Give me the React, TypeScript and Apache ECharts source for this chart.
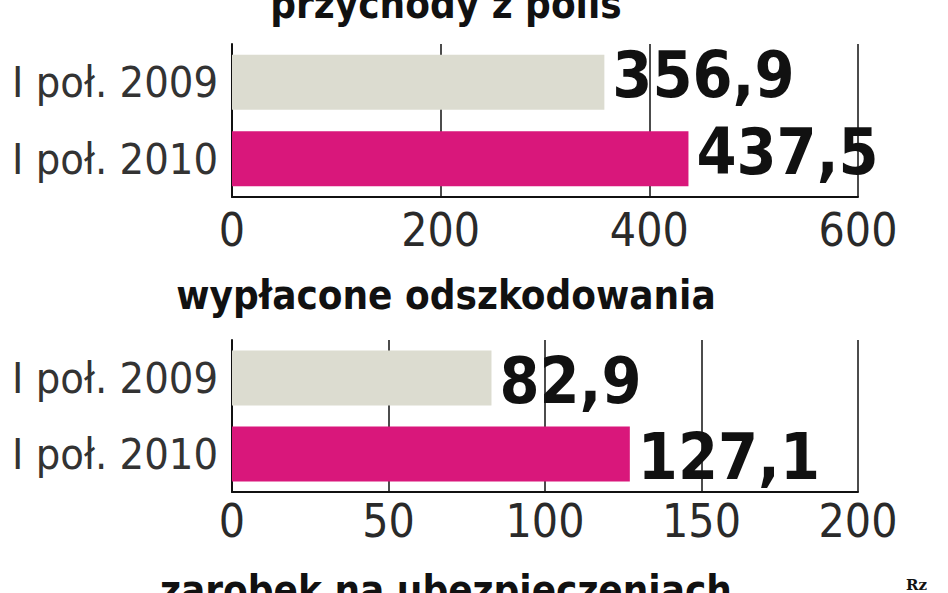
import { useEffect, useRef } from 'react';
import * as echarts from 'echarts';

// dane
const categories = ['I poł. 2009', 'I poł. 2010'];
const przychody = [356.9, 437.5];
const odszkodowania = [82.9, 127.1];
const titles = ['przychody z polis', 'wypłacone odszkodowania', 'zarobek na ubezpieczeniach'];
const colors = ['#dcdcd0', '#d9177b'];

const FONT = '"DejaVu Sans Condensed", "Liberation Sans Narrow", sans-serif';

const fmt = (v: number) => v.toFixed(1).replace('.', ',');

const App = () => {
  const chartRef = useRef<HTMLDivElement>(null);

  useEffect(() => {
    if (!chartRef.current) return;
    const chart = echarts.init(chartRef.current, null, { renderer: 'svg' });

    const valueAxis = (gridIndex: number, max: number, interval: number, margin: number) => ({
      type: 'value' as const,
      gridIndex,
      min: 0,
      max,
      interval,
      axisLine: { show: true, lineStyle: { color: '#111', width: 2 } },
      axisTick: { show: false },
      splitLine: { show: true, lineStyle: { color: '#111', width: 1.5 } },
      axisLabel: {
        color: '#2a2a2a',
        fontFamily: FONT,
        fontSize: 46,
        margin,
      },
    });

    const catAxis = (gridIndex: number, padTop: number) => ({
      type: 'category' as const,
      gridIndex,
      data: categories,
      inverse: true,
      axisLine: { show: true, lineStyle: { color: '#111', width: 2 } },
      axisTick: { show: false },
      axisLabel: {
        color: '#333',
        fontFamily: FONT,
        fontSize: 43,
        margin: 14,
        padding: [padTop, 0, 0, 0],
      },
    });

    const barSeries = (index: number, values: number[], offsetY: number) => ({
      type: 'bar' as const,
      xAxisIndex: index,
      yAxisIndex: index,
      barWidth: 55,
      data: values.map((v, i) => ({ value: v, itemStyle: { color: colors[i] } })),
      label: {
        show: true,
        position: 'right' as const,
        distance: 8,
        offset: [0, offsetY],
        color: '#111',
        fontFamily: FONT,
        fontWeight: 'bold' as const,
        fontSize: 64,
        formatter: (p: any) => fmt(p.value),
      },
    });

    const titleText = (text: string, y: number) => ({
      type: 'text' as const,
      x: 446,
      y,
      style: {
        text,
        fill: '#111',
        font: `bold 40px ${FONT}`,
        textAlign: 'center',
        textVerticalAlign: 'middle',
      },
    });

    chart.setOption({
      animation: false,
      backgroundColor: '#fff',
      grid: [
        { left: 232, right: 90, top: 44, height: 153, outerBoundsMode: 'none' },
        { left: 232, right: 90, top: 340, height: 152, outerBoundsMode: 'none' },
      ],
      xAxis: [valueAxis(0, 600, 200, 10), valueAxis(1, 200, 50, 6)],
      yAxis: [catAxis(0, 10), catAxis(1, 0)],
      series: [barSeries(0, przychody, -7), barSeries(1, odszkodowania, 3)],
      graphic: [
        titleText(titles[0], 4),
        titleText(titles[1], 295),
        titleText(titles[2], 590),
        {
          type: 'text',
          x: 906,
          y: 577,
          style: { text: 'Rz', fill: '#111', font: 'bold 15px "DejaVu Serif", serif' },
        },
      ],
    });

    return () => {
      chart.dispose();
    };
  }, []);

  return (
    <div
      ref={chartRef}
      style={{ position: 'fixed', left: 0, top: 0, width: 948, height: 593 }}
    />
  );
};

export default App;
